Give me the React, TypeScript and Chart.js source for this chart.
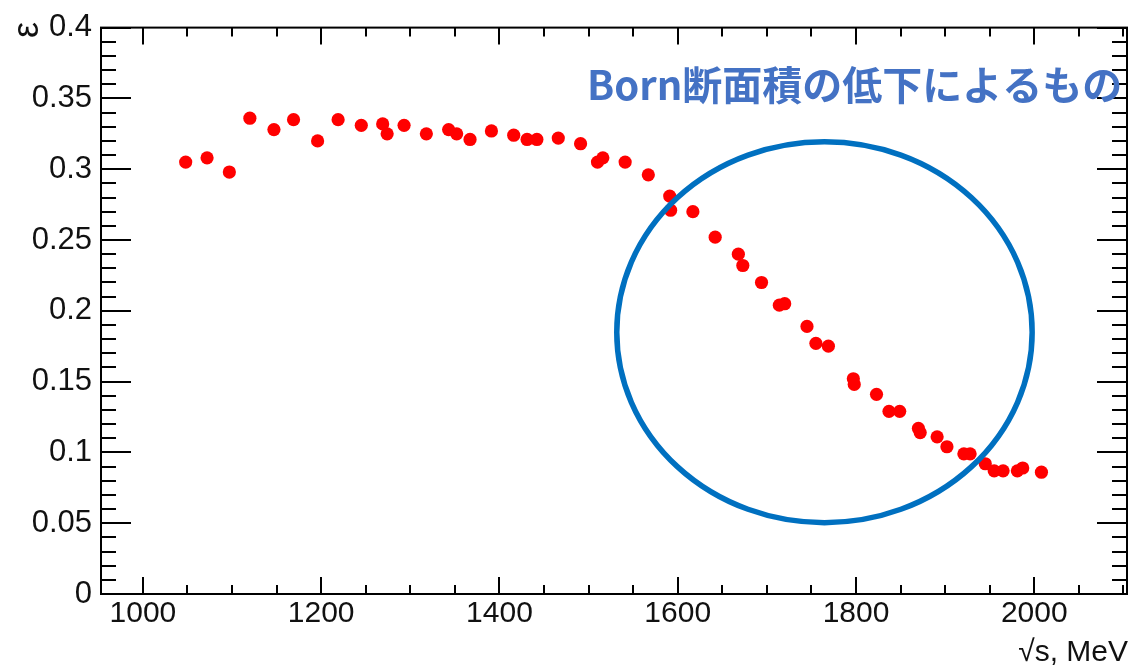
import React, { useEffect, useRef } from "react";
import { Chart, registerables } from "chart.js";

Chart.register(...registerables);

const energyMeV = [
  1048, 1072, 1097, 1120, 1147, 1169, 1196, 1219, 1245, 1269, 1274, 1293, 1318, 1343, 1352,
  1367, 1391, 1416, 1431, 1442, 1466, 1491, 1510, 1516, 1541, 1567, 1591, 1592, 1617, 1642,
  1668, 1673, 1694, 1714, 1720, 1745, 1755, 1769, 1797, 1798, 1823, 1837, 1849, 1870, 1872,
  1891, 1902, 1921, 1928, 1945, 1955, 1965, 1981, 1987, 2008,
];
const efficiency = [
  0.305, 0.308, 0.298, 0.336, 0.328, 0.335, 0.32, 0.335, 0.331, 0.332, 0.325, 0.331, 0.325, 0.328, 0.325,
  0.321, 0.327, 0.324, 0.321, 0.321, 0.322, 0.318, 0.305, 0.308, 0.305, 0.296, 0.281, 0.271, 0.27, 0.252,
  0.24, 0.232, 0.22, 0.204, 0.205, 0.189, 0.177, 0.175, 0.152, 0.148, 0.141, 0.129, 0.129, 0.117, 0.114,
  0.111, 0.104, 0.099, 0.099, 0.092, 0.087, 0.087, 0.087, 0.089, 0.086,
];

const xTickValues = [1000, 1200, 1400, 1600, 1800, 2000];
const xTickLabels = ["1000", "1200", "1400", "1600", "1800", "2000"];
const yTickValues = [0, 0.05, 0.1, 0.15, 0.2, 0.25, 0.3, 0.35, 0.4];
const yTickLabels = ["0", "0.05", "0.1", "0.15", "0.2", "0.25", "0.3", "0.35", "0.4"];

const xTitle = "√s, MeV";
const yTitle = "ε";
const annotationText = "Born断面積の低下によるもの";
// highlighted region (data units): centre and half-axes
const ellipseCenter = { x: 1764.6, y: 0.1849 };
const ellipseRadii = { x: 233, y: 0.1345 };

const X_MIN = 953;
const X_MAX = 2104;
const X_MINOR_STEP = 50;
const Y_MINOR_STEP = 0.01;

const framePlugin = {
  id: "rootFrame",
  afterDraw(chart: any) {
    const { ctx, chartArea: a, scales } = chart;
    const xs = scales.x;
    const ys = scales.y;
    ctx.save();
    ctx.strokeStyle = "#000";
    ctx.lineWidth = 2;
    ctx.strokeRect(a.left, a.top, a.right - a.left, a.bottom - a.top);

    ctx.beginPath();
    // x ticks (bottom & top)
    for (let v = Math.ceil(X_MIN / X_MINOR_STEP) * X_MINOR_STEP; v <= X_MAX + 1e-9; v += X_MINOR_STEP) {
      const major = xTickValues.includes(v);
      const len = major ? 17 : 9;
      const px = Math.round(xs.getPixelForValue(v));
      ctx.moveTo(px, a.bottom);
      ctx.lineTo(px, a.bottom - len);
      ctx.moveTo(px, a.top);
      ctx.lineTo(px, a.top + len);
    }
    // y ticks (left & right)
    for (let i = 0; i <= 40; i++) {
      const v = i * Y_MINOR_STEP;
      const major = i % 5 === 0;
      const len = major ? 30 : 15;
      const py = Math.round(ys.getPixelForValue(v));
      ctx.moveTo(a.left, py);
      ctx.lineTo(a.left + len, py);
      ctx.moveTo(a.right, py);
      ctx.lineTo(a.right - len, py);
    }
    ctx.stroke();

    // axis titles
    ctx.fillStyle = "#111";
    ctx.font = '30px "Liberation Sans", Arial, sans-serif';
    ctx.textAlign = "right";
    ctx.textBaseline = "alphabetic";
    ctx.fillText(xTitle, a.right + 1, 661);

    ctx.save();
    ctx.translate(38, 30);
    ctx.rotate(-Math.PI / 2);
    ctx.textAlign = "center";
    ctx.font = '36px "Liberation Sans", Arial, sans-serif';
    ctx.fillText(yTitle, 0, 0);
    ctx.restore();

    // highlight ellipse
    const cx = xs.getPixelForValue(ellipseCenter.x);
    const cy = ys.getPixelForValue(ellipseCenter.y);
    const rx = xs.getPixelForValue(ellipseCenter.x + ellipseRadii.x) - cx;
    const ry = cy - ys.getPixelForValue(ellipseCenter.y + ellipseRadii.y);
    ctx.beginPath();
    ctx.ellipse(cx, cy, rx, ry, 0, 0, Math.PI * 2);
    ctx.strokeStyle = "#0070C0";
    ctx.lineWidth = 5.5;
    ctx.stroke();

    // annotation
    ctx.fillStyle = "#4472C4";
    ctx.font = 'bold 40px "Noto Sans CJK JP", "Noto Sans", sans-serif';
    ctx.textAlign = "left";
    ctx.textBaseline = "middle";
    ctx.fillText(annotationText, 587, 85);
    ctx.restore();
  },
};

export default function App() {
  const canvasRef = useRef<HTMLCanvasElement | null>(null);

  useEffect(() => {
    document.body.style.margin = "0";
    const canvas = canvasRef.current;
    if (!canvas) return;
    const tickFont = { family: '"Liberation Sans", Arial, sans-serif', size: 30 };
    const chart = new Chart(canvas, {
      type: "scatter",
      data: {
        datasets: [
          {
            data: energyMeV.map((x, i) => ({ x, y: efficiency[i] })),
            backgroundColor: "#ff0000",
            borderWidth: 0,
            pointRadius: 6.6,
            pointHoverRadius: 6.6,
          },
        ],
      },
      options: {
        responsive: false,
        animation: false,
        events: [],
        layout: { padding: { left: 0, right: 17, top: 23, bottom: 0 } },
        plugins: { legend: { display: false }, tooltip: { enabled: false } },
        scales: {
          x: {
            type: "linear",
            min: X_MIN,
            max: X_MAX,
            grid: { display: false, drawTicks: false },
            border: { display: false },
            afterBuildTicks: (s: any) => {
              s.ticks = xTickValues.map((value) => ({ value }));
            },
            afterFit: (s: any) => {
              s.height = 76;
            },
            ticks: {
              font: tickFont,
              color: "#111",
              padding: 2,
              maxRotation: 0,
              autoSkip: false,
              callback: (_v: any, i: number) => xTickLabels[i],
            },
          },
          y: {
            type: "linear",
            min: 0,
            max: 0.4,
            grid: { display: false, drawTicks: false },
            border: { display: false },
            afterBuildTicks: (s: any) => {
              s.ticks = yTickValues.map((value) => ({ value }));
            },
            afterFit: (s: any) => {
              s.width = 101;
            },
            ticks: {
              font: { ...tickFont, size: 31 },
              color: "#111",
              padding: 9,
              autoSkip: false,
              callback: (_v: any, i: number) => yTickLabels[i],
            },
          },
        },
      },
      plugins: [framePlugin],
    });
    return () => chart.destroy();
  }, []);

  return (
    <div style={{ width: 1144, height: 670, position: "relative", background: "#fff" }}>
      <canvas ref={canvasRef} width={1144} height={670} />
    </div>
  );
}
